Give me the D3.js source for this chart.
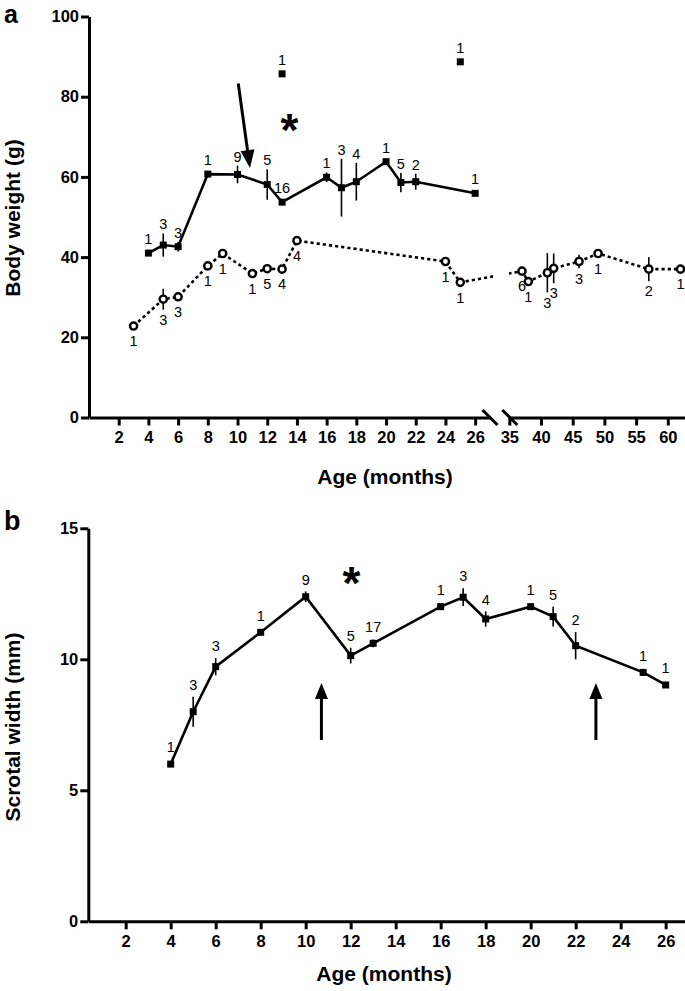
<!DOCTYPE html>
<html><head><meta charset="utf-8">
<script src="https://cdn.jsdelivr.net/npm/d3@7"></script>
<style>
html,body{margin:0;padding:0;background:#fff;}
svg{display:block;font-family:"Liberation Sans",Arial,Helvetica,sans-serif;}
</style></head><body>
<svg id="chart" width="685" height="991"></svg>
<script>
// ---------- Panel a : body weight ----------
const aSqAge  = [4, 5, 6, 8, 10, 12, 13, 16, 17, 18, 20, 21, 22, 26];
const aSqMean = [41, 43, 42.6, 60.7, 60.6, 58.1, 53.7, 59.9, 57.3, 58.8, 63.8, 58.6, 58.8, 55.9];
const aSqErr  = [0, 2.9, 1.2, 0, 2.2, 3.8, 0.8, 1.2, 7.2, 4.7, 0, 2.4, 2, 0];
const aSqN    = ["1","3","3","1","9","5","16","1","3","4","1","5","2","1"];

const aOutAge  = [13, 25];
const aOutMean = [85.7, 88.7];
const aOutN    = ["1","1"];

const aCiAge  = [3, 5, 6, 8, 9, 11, 12, 13, 14, 24, 25, 37, 38, 41, 42, 46, 49, 57, 62];
const aCiMean = [22.8, 29.5, 30.1, 37.8, 40.9, 35.9, 37.1, 37.0, 44.1, 38.9, 33.7, 36.5, 33.9, 36.1, 37.2, 38.9, 40.9, 37.0, 37.0];
const aCiErr  = [0, 2.6, 0.8, 0.5, 0, 0.5, 0.5, 1, 1, 0, 0, 0.5, 0, 4.9, 3.7, 1.7, 0, 3, 0];
const aCiN    = ["1","3","3","1","1","1","5","4","4","1","1","6","1","3","3","3","1","2","1"];

const aXTicksLeft  = [2, 4, 6, 8, 10, 12, 14, 16, 18, 20, 22, 24, 26];
const aXTicksRight = [35, 40, 45, 50, 55, 60];
const aYTicks = [0, 20, 40, 60, 80, 100];
const aArrowFrom = [10.05, 83.3];   // [age, weight]
const aArrowTo   = [10.84, 62.2];
const aStar      = [13.5, 74.2];

// ---------- Panel b : scrotal width ----------
const bAge  = [4, 5, 6, 8, 10, 12, 13, 16, 17, 18, 20, 21, 22, 25, 26];
const bMean = [6.0, 8.0, 9.72, 11.03, 12.39, 10.14, 10.61, 12.01, 12.37, 11.54, 12.01, 11.63, 10.52, 9.50, 9.02];
const bErr  = [0, 0.57, 0.33, 0, 0.2, 0.3, 0.15, 0, 0.34, 0.29, 0, 0.38, 0.52, 0, 0];
const bN    = ["1","3","3","1","9","5","17","1","3","4","1","5","2","1","1"];
const bXTicks = [2, 4, 6, 8, 10, 12, 14, 16, 18, 20, 22, 24, 26];
const bYTicks = [0, 5, 10, 15];
const bArrowAge = [10.7, 22.9];
const bArrowFrom = 6.92, bArrowTo = 9.1;
const bStar = [12.04, 13.3];

const svg = d3.select("#chart");
const FONT = '"Liberation Sans",Arial,Helvetica,sans-serif';

function styleAxis(g){
  g.attr("font-family", FONT).attr("font-size", 16.5).attr("font-weight", "bold");
  g.select(".domain").attr("stroke-width", 3);
  g.selectAll(".tick line").attr("stroke-width", 3);
  g.selectAll(".tick text").attr("fill", "#000");
}

function arrow(g, x1, y1, x2, y2, headLen, headW){
  const dx = x2 - x1, dy = y2 - y1, L = Math.hypot(dx, dy);
  const ux = dx / L, uy = dy / L;
  const bx = x2 - ux * headLen, by = y2 - uy * headLen;
  g.append("line").attr("x1", x1).attr("y1", y1).attr("x2", bx + ux).attr("y2", by + uy)
    .attr("stroke", "#000").attr("stroke-width", 3);
  const px = -uy, py = ux;
  g.append("path").attr("d",
    `M${x2},${y2}L${bx + px*headW/2},${by + py*headW/2}L${bx - px*headW/2},${by - py*headW/2}Z`)
    .attr("fill", "#000");
}

// ================= PANEL A =================
const ya = d3.scaleLinear().domain([0, 100]).range([417.5, 16.5]);
const xaL = d3.scaleLinear().domain([0, 27]).range([89, 490]);
const xaR = d3.scaleLinear().domain([34.84, 62.71]).range([508.3, 685]);
const xa = m => (m <= 30 ? xaL(m) : xaR(m));

const ga = svg.append("g");

ga.append("text").attr("x", 4).attr("y", 22.5).attr("font-size", 25).attr("font-weight", "bold")
  .attr("font-family", FONT).text("a");

ga.append("g").attr("transform", `translate(${xaL(0)},0)`)
  .call(d3.axisLeft(ya).tickValues(aYTicks).tickSize(8).tickPadding(2).tickSizeOuter(0))
  .call(styleAxis);
ga.append("g").attr("transform", `translate(0,${ya(0)})`)
  .call(d3.axisBottom(xaL).tickValues(aXTicksLeft).tickSize(8).tickPadding(6).tickSizeOuter(0))
  .call(styleAxis);
ga.append("g").attr("transform", `translate(0,${ya(0)})`)
  .call(d3.axisBottom(xaR).tickValues(aXTicksRight).tickSize(8).tickPadding(6).tickSizeOuter(0))
  .call(styleAxis);

// break marks
[xaL.range()[1], xaR.range()[0] + 1.5].forEach(cx => {
  ga.append("line").attr("x1", cx - 7.5).attr("y1", ya(0) - 7.5).attr("x2", cx + 7.5).attr("y2", ya(0) + 7.5)
    .attr("stroke", "#000").attr("stroke-width", 3);
});

ga.append("text").attr("transform", `translate(20,218) rotate(-90)`).attr("text-anchor", "middle")
  .attr("font-size", 21).attr("font-weight", "bold").attr("font-family", FONT).text("Body weight (g)");
ga.append("text").attr("x", 385).attr("y", 484).attr("text-anchor", "middle")
  .attr("font-size", 21).attr("font-weight", "bold").attr("font-family", FONT).text("Age (months)");

// clip for the axis break
const defs = svg.append("defs");
defs.append("clipPath").attr("id", "brk")
  .call(c => {
    c.append("rect").attr("x", 0).attr("y", 0).attr("width", 493).attr("height", 500);
    c.append("rect").attr("x", 509).attr("y", 0).attr("width", 200).attr("height", 500);
  });

// circle series (dotted)
const ciIdx = d3.range(aCiAge.length);
ga.append("path").attr("clip-path", "url(#brk)")
  .attr("d", d3.line().x(i => xa(aCiAge[i])).y(i => ya(aCiMean[i]))(ciIdx))
  .attr("fill", "none").attr("stroke", "#000").attr("stroke-width", 2.6).attr("stroke-dasharray", "3.2,3");
ga.selectAll(".ciErr").data(ciIdx.filter(i => aCiErr[i] > 0)).join("line")
  .attr("x1", i => xa(aCiAge[i])).attr("x2", i => xa(aCiAge[i]))
  .attr("y1", i => ya(aCiMean[i] - aCiErr[i])).attr("y2", i => ya(aCiMean[i] + aCiErr[i]))
  .attr("stroke", "#000").attr("stroke-width", 1.6);
ga.selectAll(".ci").data(ciIdx).join("circle")
  .attr("cx", i => xa(aCiAge[i])).attr("cy", i => ya(aCiMean[i])).attr("r", 3.6)
  .attr("fill", "#fff").attr("stroke", "#000").attr("stroke-width", 2.4);
ga.selectAll(".ciN").data(ciIdx).join("text")
  .attr("x", i => xa(aCiAge[i])).attr("text-anchor", "middle")
  .attr("y", i => Math.max(ya(aCiMean[i] - aCiErr[i]), ya(aCiMean[i]) + 5) + 15.2)
  .attr("font-size", 14.5).attr("font-family", FONT).text(i => aCiN[i]);

// square series (solid)
const sqIdx = d3.range(aSqAge.length);
ga.append("path")
  .attr("d", d3.line().x(i => xa(aSqAge[i])).y(i => ya(aSqMean[i]))(sqIdx))
  .attr("fill", "none").attr("stroke", "#000").attr("stroke-width", 2.6);
ga.selectAll(".sqErr").data(sqIdx.filter(i => aSqErr[i] > 0)).join("line")
  .attr("x1", i => xa(aSqAge[i])).attr("x2", i => xa(aSqAge[i]))
  .attr("y1", i => ya(aSqMean[i] - aSqErr[i])).attr("y2", i => ya(aSqMean[i] + aSqErr[i]))
  .attr("stroke", "#000").attr("stroke-width", 1.6);
ga.selectAll(".sq").data(sqIdx).join("rect")
  .attr("x", i => xa(aSqAge[i]) - 3.5).attr("y", i => ya(aSqMean[i]) - 3.5)
  .attr("width", 7).attr("height", 7).attr("fill", "#000");
ga.selectAll(".sqN").data(sqIdx).join("text")
  .attr("x", i => xa(aSqAge[i])).attr("text-anchor", "middle")
  .attr("y", i => Math.min(ya(aSqMean[i] + aSqErr[i]), ya(aSqMean[i]) - 5) - 4)
  .attr("font-size", 14.5).attr("font-family", FONT).text(i => aSqN[i]);

// outliers
const outIdx = d3.range(aOutAge.length);
ga.selectAll(".out").data(outIdx).join("rect")
  .attr("x", i => xa(aOutAge[i]) - 3.5).attr("y", i => ya(aOutMean[i]) - 3.5)
  .attr("width", 7).attr("height", 7).attr("fill", "#000");
ga.selectAll(".outN").data(outIdx).join("text")
  .attr("x", i => xa(aOutAge[i])).attr("text-anchor", "middle")
  .attr("y", i => ya(aOutMean[i]) - 9)
  .attr("font-size", 14.5).attr("font-family", FONT).text(i => aOutN[i]);

arrow(ga, xa(aArrowFrom[0]), ya(aArrowFrom[1]), xa(aArrowTo[0]), ya(aArrowTo[1]), 18, 14);
ga.append("text").attr("x", xa(aStar[0])).attr("y", ya(aStar[1]) + 26).attr("text-anchor", "middle")
  .attr("font-size", 46).attr("font-weight", "bold").attr("font-family", FONT).text("*");

// ================= PANEL B =================
const yb = d3.scaleLinear().domain([0, 15]).range([921.3, 528.3]);
const xb = d3.scaleLinear().domain([0.338, 26.86]).range([88.3, 685]);
const gb = svg.append("g");

gb.append("text").attr("x", 4).attr("y", 530).attr("font-size", 27).attr("font-weight", "bold")
  .attr("font-family", FONT).text("b");

gb.append("g").attr("transform", `translate(${xb.range()[0]},0)`)
  .call(d3.axisLeft(yb).tickValues(bYTicks).tickSize(8).tickPadding(2).tickSizeOuter(0))
  .call(styleAxis);
gb.append("g").attr("transform", `translate(0,${yb(0)})`)
  .call(d3.axisBottom(xb).tickValues(bXTicks).tickSize(8).tickPadding(6).tickSizeOuter(0))
  .call(styleAxis);

gb.append("text").attr("transform", `translate(20,727) rotate(-90)`).attr("text-anchor", "middle")
  .attr("font-size", 21).attr("font-weight", "bold").attr("font-family", FONT).text("Scrotal width (mm)");
gb.append("text").attr("x", 384).attr("y", 981).attr("text-anchor", "middle")
  .attr("font-size", 21).attr("font-weight", "bold").attr("font-family", FONT).text("Age (months)");

const bIdx = d3.range(bAge.length);
gb.append("path")
  .attr("d", d3.line().x(i => xb(bAge[i])).y(i => yb(bMean[i]))(bIdx))
  .attr("fill", "none").attr("stroke", "#000").attr("stroke-width", 2.6);
gb.selectAll(".bErr").data(bIdx.filter(i => bErr[i] > 0)).join("line")
  .attr("x1", i => xb(bAge[i])).attr("x2", i => xb(bAge[i]))
  .attr("y1", i => yb(bMean[i] - bErr[i])).attr("y2", i => yb(bMean[i] + bErr[i]))
  .attr("stroke", "#000").attr("stroke-width", 1.6);
gb.selectAll(".bsq").data(bIdx).join("rect")
  .attr("x", i => xb(bAge[i]) - 3.5).attr("y", i => yb(bMean[i]) - 3.5)
  .attr("width", 7).attr("height", 7).attr("fill", "#000");
gb.selectAll(".bN").data(bIdx).join("text")
  .attr("x", i => xb(bAge[i])).attr("text-anchor", "middle")
  .attr("y", i => Math.min(yb(bMean[i] + bErr[i]), yb(bMean[i]) - 5) - 6.8)
  .attr("font-size", 14.5).attr("font-family", FONT).text(i => bN[i]);

bArrowAge.forEach(m => arrow(gb, xb(m), yb(bArrowFrom), xb(m), yb(bArrowTo), 16, 13));
gb.append("text").attr("x", xb(bStar[0])).attr("y", yb(bStar[1]) + 26).attr("text-anchor", "middle")
  .attr("font-size", 46).attr("font-weight", "bold").attr("font-family", FONT).text("*");
</script>
</body></html>
